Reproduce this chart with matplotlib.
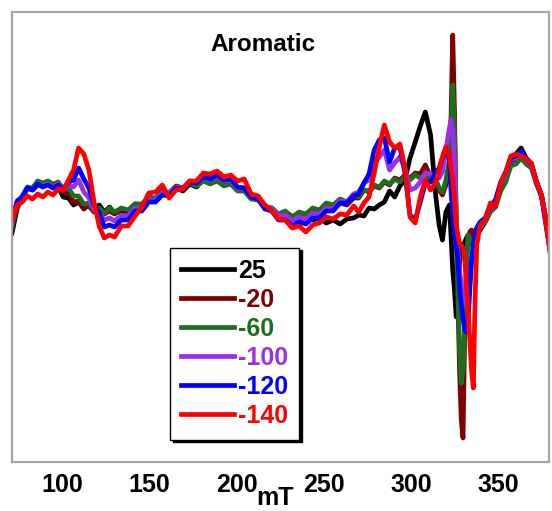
import numpy as np
import matplotlib
matplotlib.use("Agg")
import matplotlib.pyplot as plt

plt.rcParams['font.family'] = ['Liberation Sans', 'DejaVu Sans']

# field axis (mT), shared by all traces
field = [71.3, 74.3, 77.2, 80.1, 83.1, 86.0, 89.0, 91.9, 94.8, 97.8, 100.7, 103.7, 106.6, 109.5, 112.5,
         115.4, 118.3, 121.3, 124.2, 127.2, 130.1,
         134.0, 137.9, 141.9, 145.8, 149.7, 153.6, 157.5, 161.4, 165.4, 169.3, 173.2, 177.1, 181.0, 184.9,
         188.9, 192.8, 196.7, 200.6, 204.5, 208.4, 212.4, 216.3, 220.2, 224.1, 228.0, 231.9, 235.9, 239.8,
         243.7, 247.6, 251.5, 255.4, 259.4, 263.3,
         267.2, 270.1, 273.1, 276.0, 279.0, 281.9, 284.8, 287.8, 290.7, 293.7, 296.6, 299.5, 302.5, 305.4,
         308.3, 311.3, 314.2,
         316.2, 318.1, 320.1, 322.1, 323.0, 324.0, 325.0, 326.0, 327.0, 327.9, 328.9, 329.9, 330.9, 331.9,
         332.8, 333.8, 334.8, 335.8, 336.8, 337.8, 339.7,
         342.6, 345.6, 348.5, 351.5, 354.4, 357.3, 360.3, 363.2, 366.1, 369.1, 372.0, 374.9, 377.9, 380.8]

t25 = [-23, 2, 13, 22, 20, 25, 24, 26, 22, 23, 13, 12, 5, 8, 1, 6, 0, 5, -2, 3, -3,
       -1, -3, 4, 3, 12, 9, 17, 15, 22, 19, 26, 23, 31, 27, 30, 25, 28, 20, 21, 13, 12, 2, 0, -6,
       -3, -6, -11, -4, -10, -8, -13, -10, -14, -9,
       -8, -5, -6, 2, 1, 5, 8, 19, 13, 24, 30, 52, 68, 84, 98, 75, 15,
       -15, -30, -2, 5, -25, -60, -80, -107, -85, -52, -40, -35, -32, -28, -25, -28, -33, -35, -30, -25, -20,
       -12, -1, 5, 24, 36, 52, 56, 62, 52, 46, 28, 14, -17, -48]

t_20 = [-18, 4, 12, 22, 21, 27, 25, 26, 23, 25, 18, 17, 8, 9, 2, 4, -2, 1, -4, -1, -4,
        1, -1, 6, 5, 12, 11, 18, 17, 24, 22, 28, 26, 31, 28, 31, 26, 28, 21, 21, 12, 11, 2, 2, -5,
        -3, -9, -4, -6, -1, -3, 3, 1, 7, 5,
        12, 12, 20, 18, 24, 22, 28, 25, 32, 30, 35, 32, 37, 36, 45, 33, 31,
        20, 15, 25, 40, 90, 175, 100, -10, -90, -160, -210, -228, -120, -50, -30, -22, -20, -25, -22, -18, -15,
        -10, 0, 5, 22, 33, 49, 51, 57, 50, 45, 28, 15, -14, -45]

t_60 = [-15, 7, 14, 23, 22, 29, 27, 29, 26, 28, 21, 22, 14, 14, 6, 7, 0, 2, -3, 2, -2,
        2, 0, 6, 6, 13, 12, 19, 17, 23, 21, 27, 24, 29, 26, 29, 24, 26, 19, 19, 11, 10, 2, 2, -4,
        -1, -7, -2, -4, 2, 0, 7, 5, 11, 8,
        15, 13, 20, 19, 25, 23, 29, 26, 31, 28, 33, 30, 35, 32, 36, 30, 31,
        22, 18, 30, 50, 85, 125, 80, -10, -80, -140, -173, -160, -110, -60, -25, -30, -35, -30, -25, -20, -14,
        -12, -2, 3, 19, 28, 44, 46, 52, 46, 42, 26, 14, -12, -38]

t_100 = [-12, 9, 13, 22, 20, 26, 24, 26, 23, 26, 20, 25, 23, 30, 18, 12, 0, -3, -10, -8, -11,
         -5, -6, 2, 2, 10, 10, 17, 16, 23, 22, 29, 27, 33, 30, 34, 29, 30, 22, 22, 13, 12, 3, 2, -6,
         -5, -11, -7, -9, -3, -4, 2, 1, 9, 8,
         16, 18, 27, 30, 47, 53, 60, 40, 47, 53, 42, 20, 22, 28, 37, 36, 32,
         32, 38, 60, 82, 90, 80, 50, -10, -40, -60, -75, -83, -90, -95, -90, -70, -50, -35, -28, -23, -18,
         -10, 2, 8, 26, 36, 51, 52, 57, 50, 45, 28, 15, -15, -45]

t_120 = [-10, 9, 13, 22, 20, 26, 23, 25, 22, 25, 21, 28, 30, 42, 31, 22, 5, -3, -17, -15, -17,
         -10, -10, -1, -1, 8, 8, 15, 14, 22, 21, 28, 27, 33, 31, 35, 30, 31, 23, 22, 13, 11, 1, -1, -10,
         -10, -16, -12, -14, -8, -8, -1, -1, 7, 7,
         14, 16, 27, 36, 60, 70, 72, 48, 62, 63, 37, -5, -10, 8, 27, 28, 37,
         42, 52, 62, 50, 20, -5, -25, -35, -50, -75, -95, -108, -120, -122, -110, -80, -50, -35, -25, -18, -12,
         -8, 4, 10, 28, 38, 52, 54, 59, 51, 46, 28, 14, -20, -52]

t_140 = [-10, 5, 8, 14, 11, 16, 13, 18, 15, 21, 20, 30, 40, 62, 56, 40, 8, -16, -28, -25, -27,
         -16, -16, -6, 3, 17, 18, 25, 12, 20, 21, 29, 29, 37, 36, 39, 33, 35, 29, 31, 16, 14, 5, 0, -9,
         -10, -18, -16, -22, -15, -13, -7, -9, -4, -5,
         4, -2, 7, 13, 37, 63, 85, 68, 62, 66, 42, -7, -13, 13, 30, 20, 27,
         40, 53, 63, 55, 42, 30, 10, -15, -25, -33, -35, -38, -50, -75, -100, -130, -160, -178, -90, -35, -15,
         -10, 7, 3, 27, 38, 54, 56, 54, 51, 47, 28, 15, -17, -55]

labels = ['25', '-20', '-60', '-100', '-120', '-140']
colors = ['#000000', '#7f0000', '#1f6e1f', '#9a30e8', '#0000ff', '#ff0000']
traces = [t25, t_20, t_60, t_100, t_120, t_140]

fig = plt.figure(figsize=(5.52, 5.11), dpi=100)
ax = fig.add_axes([12 / 552, 1 - 462 / 511, 537 / 552, 450 / 511])

for y, lab, c in zip(traces, labels, colors):
    ax.plot(field, y, color=c, lw=3.4, label=lab, solid_joinstyle='round')

ax.set_xlim(71.3, 379.2)
ax.set_ylim(-252, 198)
ax.set_yticks([])
ax.set_xticks([100, 150, 200, 250, 300, 350])
ax.tick_params(axis='x', length=0, pad=8, labelsize=18)
for lbl in ax.get_xticklabels():
    lbl.set_fontweight('bold')

for s in ax.spines.values():
    s.set_color('#a6a6a6')
    s.set_linewidth(1.6)

ax.text(0.468, 0.928, 'Aromatic', transform=ax.transAxes, ha='center', va='center',
        fontsize=17.5, fontweight='bold')
fig.text(275 / 552, 1 - 498 / 511, 'mT', ha='center', va='center', fontsize=18, fontweight='bold')

leg = ax.legend(loc='lower left', bbox_to_anchor=(0.294, 0.05), fontsize=18,
                frameon=True, fancybox=False, edgecolor='black', framealpha=1,
                shadow={'color': 'black', 'alpha': 1}, handlelength=2.1,
                labelspacing=0.2, handletextpad=0.15, borderpad=0.46, borderaxespad=0)
leg.get_frame().set_linewidth(1.0)
for txt, c in zip(leg.get_texts(), colors):
    txt.set_color(c)
    txt.set_fontweight('bold')

fig.savefig('out.png', dpi=100)
